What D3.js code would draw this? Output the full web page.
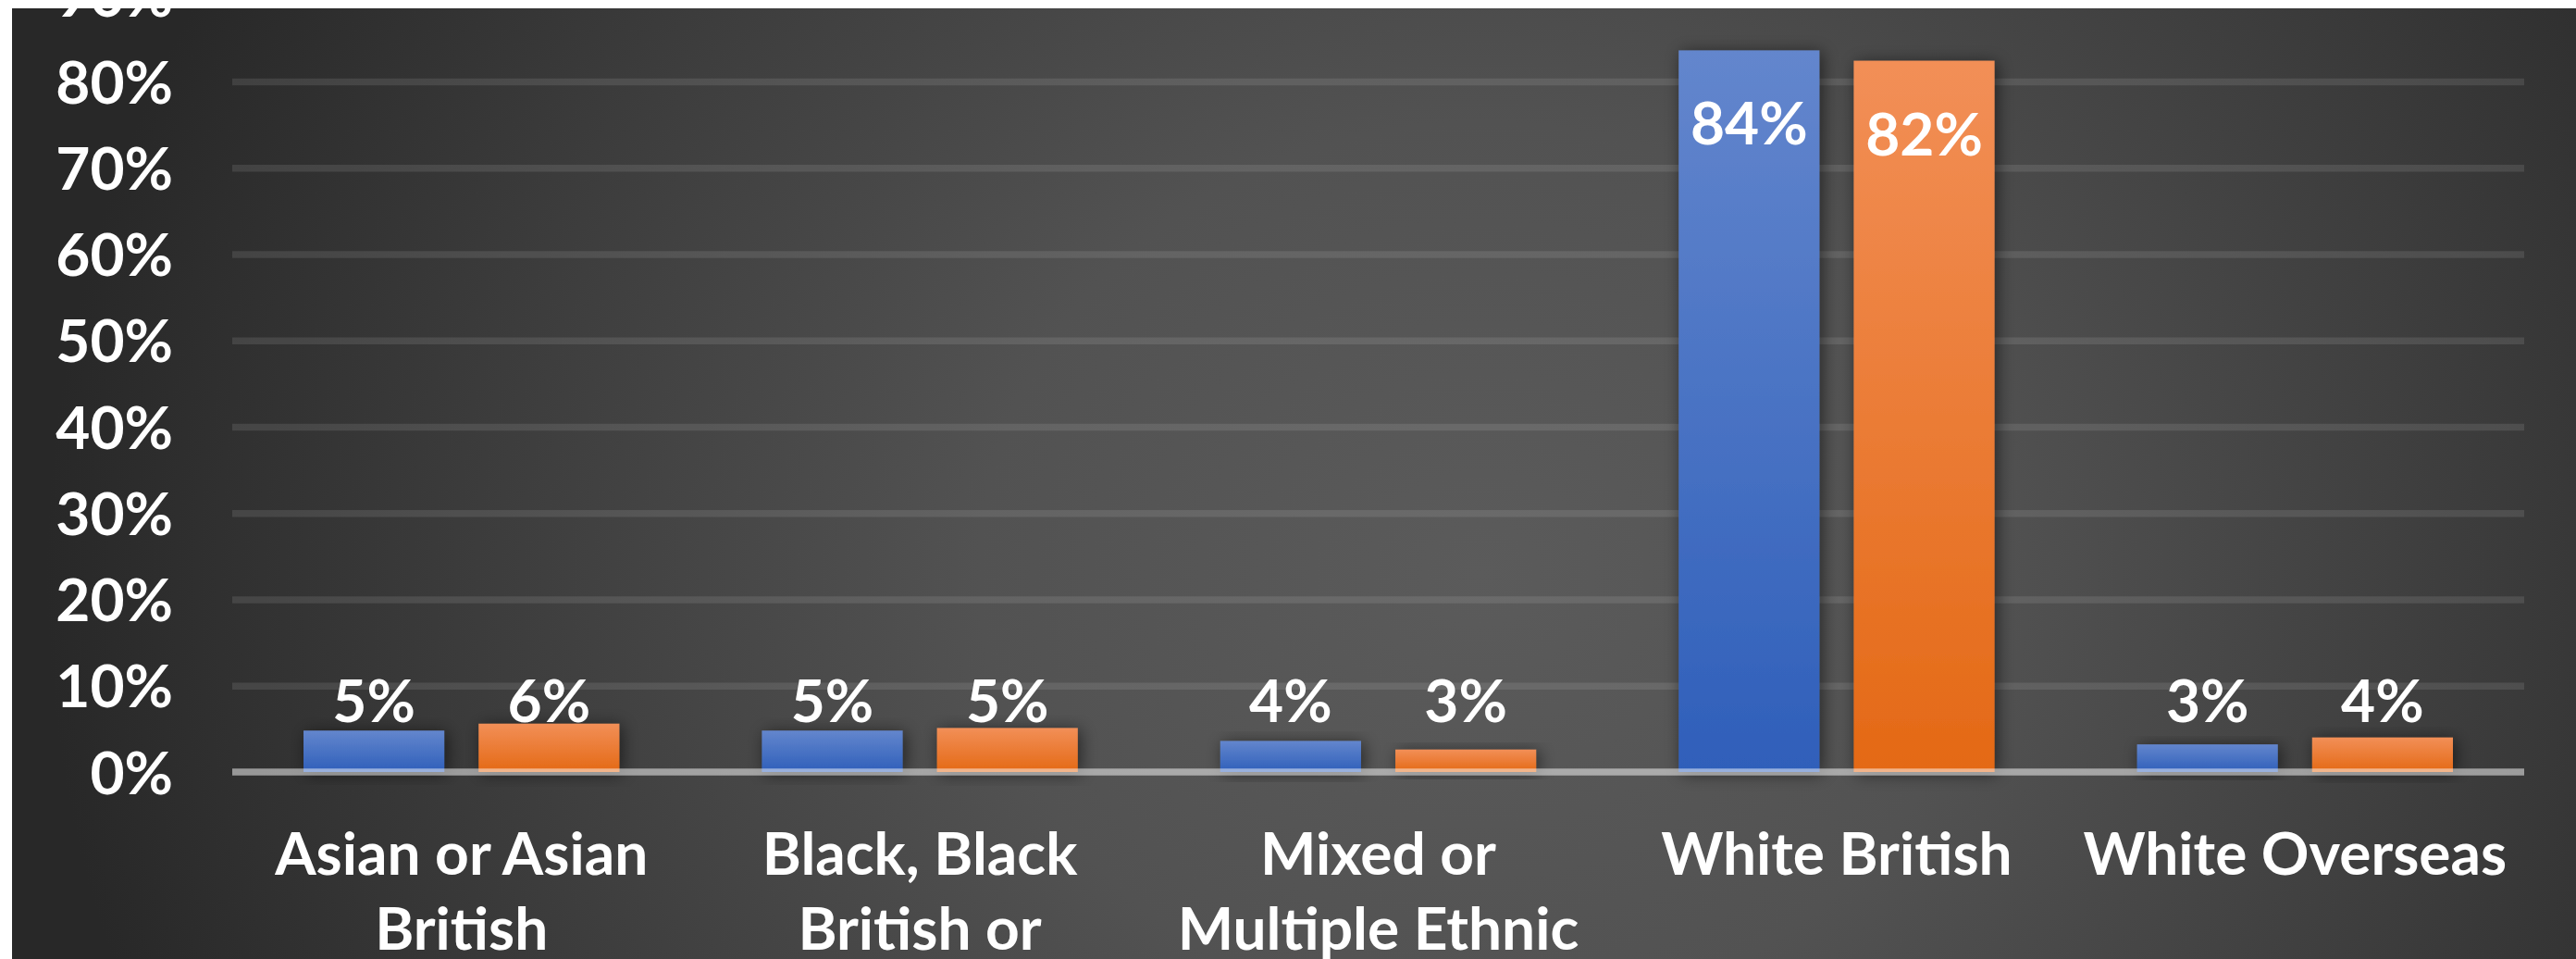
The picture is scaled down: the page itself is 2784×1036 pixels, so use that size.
<!DOCTYPE html>
<html>
<head>
<meta charset="utf-8">
<script src="https://cdn.jsdelivr.net/npm/d3@7"></script>
<style>
html,body{margin:0;padding:0;background:#ffffff;overflow:hidden}
text{font-family:Lato,"Open Sans",sans-serif;font-weight:700;fill:#ffffff}
</style>
</head>
<body>
<script>
// ---- data ----
const categories = ["Asian or Asian British", "Black, Black British or", "Mixed or Multiple Ethnic", "White British", "White Overseas"];
const seriesNames = ["Series 1", "Series 2"];
const seriesA = [0.048, 0.048, 0.036, 0.836, 0.032];
const seriesB = [0.056, 0.051, 0.026, 0.824, 0.040];
const tickValues = [0, 0.1, 0.2, 0.3, 0.4, 0.5, 0.6, 0.7, 0.8, 0.9];

// ---- layout ----
const W = 2784, H = 1036;
const plotLeft = 251, plotRight = 2728;
const fontSize = 64;

const svg = d3.select("body").append("svg").attr("width", W).attr("height", H);
const defs = svg.append("defs");

const bg = defs.append("radialGradient").attr("id", "bgGrad")
  .attr("gradientUnits", "userSpaceOnUse")
  .attr("cx", 1600).attr("cy", 620).attr("r", 1550)
  .attr("gradientTransform", "translate(1600,620) scale(1,0.9) translate(-1600,-620)");
bg.append("stop").attr("offset", 0).attr("stop-color", "#5b5b5b");
bg.append("stop").attr("offset", 0.35).attr("stop-color", "#525252");
bg.append("stop").attr("offset", 0.7).attr("stop-color", "#3c3c3c");
bg.append("stop").attr("offset", 1).attr("stop-color", "#282828");

const gradSpecs = [
  {id: "gradA", top: "#6386cd", bottom: "#2f5fba"},
  {id: "gradB", top: "#f28f57", bottom: "#e46915"}
];
gradSpecs.forEach(g => {
  const lg = defs.append("linearGradient").attr("id", g.id)
    .attr("x1", 0).attr("y1", 0).attr("x2", 0).attr("y2", 1);
  lg.append("stop").attr("offset", 0).attr("stop-color", g.top);
  lg.append("stop").attr("offset", 1).attr("stop-color", g.bottom);
});

const shadow = defs.append("filter").attr("id", "shadow")
  .attr("x", "-30%").attr("y", "-30%").attr("width", "160%").attr("height", "160%");
shadow.append("feDropShadow").attr("dx", 3).attr("dy", 2)
  .attr("stdDeviation", 9).attr("flood-color", "#000").attr("flood-opacity", 0.55);

// background
svg.append("rect").attr("x", 0).attr("y", 0).attr("width", W).attr("height", H).attr("fill", "url(#bgGrad)");

// scales
const x0 = d3.scaleBand().domain(categories).range([plotLeft, plotRight]);
const x1 = d3.scaleBand().domain(seriesNames).range([0, x0.bandwidth()])
  .paddingInner(0.196).paddingOuter(0.407);
const y = d3.scaleLinear().domain([0, 0.9]).range([834, -5.25]);

// gridlines + tick labels
const yAxis = d3.axisLeft(y).tickValues(tickValues)
  .tickSize(-(plotRight - plotLeft)).tickPadding(64)
  .tickFormat(d3.format(".0%"));
const gy = svg.append("g").attr("transform", `translate(${plotLeft},0)`).call(yAxis);
gy.select(".domain").remove();
gy.selectAll(".tick line").attr("stroke", "#ffffff").attr("stroke-opacity", 0.1).attr("stroke-width", 7.5)
  .filter(d => d === 0).remove();
gy.selectAll(".tick text").attr("font-size", fontSize).attr("font-family", "Lato, sans-serif")
  .attr("font-weight", 700).attr("fill", "#ffffff").attr("dy", "0.36em");

// bars
const rows = categories.map((c, i) => ({cat: c, vals: [
  {s: seriesNames[0], v: seriesA[i], grad: "gradA"},
  {s: seriesNames[1], v: seriesB[i], grad: "gradB"}
]}));

const groups = svg.append("g").selectAll("g").data(rows).join("g")
  .attr("transform", d => `translate(${x0(d.cat)},0)`);

groups.selectAll("rect").data(d => d.vals).join("rect")
  .attr("x", d => x1(d.s))
  .attr("width", x1.bandwidth())
  .attr("y", d => y(d.v))
  .attr("height", d => y(0) - y(d.v))
  .attr("fill", d => `url(#${d.grad})`)
  .attr("filter", "url(#shadow)");

// axis line (semi-transparent, over bars)
svg.append("line").attr("x1", plotLeft).attr("x2", plotRight)
  .attr("y1", y(0)).attr("y2", y(0))
  .attr("stroke", "#ffffff").attr("stroke-opacity", 0.5).attr("stroke-width", 7.5);

// data labels
const allVals = seriesA.concat(seriesB);
const smallMax = d3.max(allVals.filter(v => v < 0.5));
const fmt = d3.format(".0%");
groups.selectAll("text.lbl").data(d => d.vals).join("text")
  .attr("class", "lbl")
  .attr("x", d => x1(d.s) + x1.bandwidth() / 2)
  .attr("y", d => d.v >= 0.5 ? y(d.v) + 102 : y(smallMax) - 2)
  .attr("text-anchor", "middle")
  .attr("font-size", fontSize)
  .text(d => fmt(d.v));

// category labels (wrapped)
const maxW = x0.bandwidth() * 0.97;
const catG = svg.append("g");
categories.forEach(c => {
  const t = catG.append("text").attr("text-anchor", "middle")
    .attr("font-size", fontSize)
    .attr("x", x0(c) + x0.bandwidth() / 2).attr("y", 945);
  const words = c.split(" ");
  let line = [], lineNo = 0;
  let tspan = t.append("tspan").attr("x", x0(c) + x0.bandwidth() / 2).attr("y", 945);
  words.forEach(w => {
    line.push(w);
    tspan.text(line.join(" "));
    if (tspan.node().getComputedTextLength() > maxW && line.length > 1) {
      line.pop();
      tspan.text(line.join(" "));
      line = [w];
      lineNo++;
      tspan = t.append("tspan").attr("x", x0(c) + x0.bandwidth() / 2)
        .attr("y", 945 + lineNo * 81).text(w);
    }
  });
});

// white margins of the cropped picture
svg.append("rect").attr("x", 0).attr("y", 0).attr("width", W).attr("height", 9).attr("fill", "#ffffff");
svg.append("rect").attr("x", 0).attr("y", 0).attr("width", 13).attr("height", H).attr("fill", "#ffffff");
</script>
</body>
</html>
